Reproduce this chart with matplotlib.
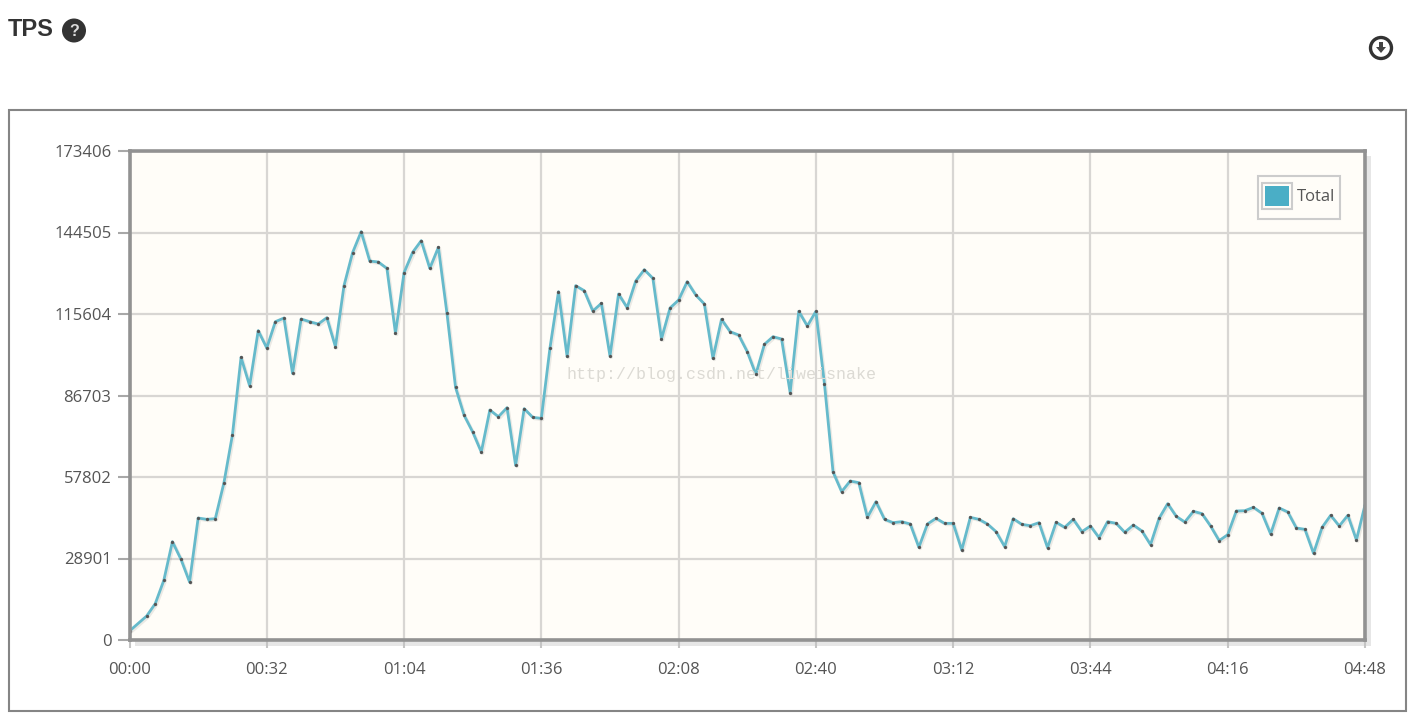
import matplotlib
matplotlib.use('Agg')
import matplotlib.pyplot as plt
from matplotlib.patches import Rectangle, Circle, Polygon
from matplotlib.transforms import Affine2D, offset_copy

W, H = 1422, 725

# minutes since start, the 00:02 sample has no marker in the picture
minutes = [0] + list(range(4, 290, 2))
tps = [
    3190, 8510, 12880, 21160, 34870, 28600, 20570, 43260, 42790, 43020, 55670, 72800,
    100230, 90190, 109690, 103540, 112880, 114180, 94560, 113830, 112880, 112050,
    114300, 104020, 125650, 137350, 144800, 134390, 134040, 131790, 108740, 130260,
    137470, 141600, 131790, 139240, 115840, 89600, 79670, 73760, 66660, 81560, 79190,
    82390, 61940, 82030, 78960, 78600, 103420, 123520, 100590, 125650, 123870, 116660,
    119380, 100710, 122690, 117850, 127300, 131320, 128250, 106730, 117730, 120560,
    127070, 122340, 119150, 99880, 113710, 109340, 108150, 102240, 94210, 104840,
    107560, 106730, 87700, 116550, 111340, 116550, 90780, 59570, 52600, 56380, 55790,
    43500, 49050, 42790, 41610, 41960, 41130, 32860, 41130, 43140, 41370, 41370, 31910,
    43500, 42790, 41130, 38410, 33100, 43020, 41010, 40540, 41610, 32740, 41720, 39950,
    42790, 38410, 40420, 36290, 41960, 41370, 38180, 40780, 38650, 33810, 43140, 48340,
    43850, 41840, 45630, 44800, 40420, 35220, 37350, 45740, 45860, 47040, 44920, 37590,
    46810, 45390, 39720, 39240, 30730, 39950, 44210, 40420, 44210, 35460, 47870,
]
x_ticks = [0, 32, 64, 96, 128, 160, 192, 224, 256, 288]
x_labels = ['00:00', '00:32', '01:04', '01:36', '02:08', '02:40', '03:12', '03:44', '04:16', '04:48']
y_ticks = [0, 28901, 57802, 86703, 115604, 144505, 173406]

text_col = '#555555'
grid_col = '#d8d6d3'
border_col = '#929292'
line_col = '#66bacb'
swatch_col = '#4aaec6'
dark = '#333333'

fig = plt.figure(figsize=(W / 100, H / 100), dpi=100, facecolor='white')
# pixel coordinates for the page furniture, origin top left
to_px = Affine2D().scale(1, -1).translate(0, H)

ax = fig.add_axes([129.5 / W, 1 - 640 / H, (1365 - 129.5) / W, (640 - 151) / H], facecolor='#fffdf8')
ax.set_xlim(0, 288)
ax.set_ylim(0, 173406)
ax.set_xticks(x_ticks, x_labels)
ax.set_yticks(y_ticks, [str(v) for v in y_ticks])
ax.grid(True, color=grid_col, linewidth=1.6)
ax.set_axisbelow(True)
ax.tick_params(axis='y', length=9, width=1.5, color='#a8a8a8', pad=4, labelsize=12, labelcolor=text_col)
ax.tick_params(axis='x', length=6, width=1.5, color='#c4c4c4', pad=10, labelsize=12, labelcolor=text_col)
for label in ax.get_xticklabels() + ax.get_yticklabels():
    label.set_family('Open Sans')
for spine in ax.spines.values():
    spine.set_color(border_col)
    spine.set_linewidth(2.6)

# soft shadow under the line, then the line with small dark markers
shadow = offset_copy(ax.transData, fig=fig, x=1.5, y=-1.5, units='dots')
ax.plot(minutes, tps, color='#000000', alpha=0.08, linewidth=2, transform=shadow)
ax.plot(minutes, tps, color=line_col, linewidth=2, marker='o', markersize=2.2,
        markerfacecolor='#555555', markeredgecolor='#555555', markeredgewidth=0.2)

# outer frame and the shadow of the plot box
fig.add_artist(Rectangle((8.5, 110), 1397, 601, fill=False, edgecolor='#858585', linewidth=1.5,
                         transform=to_px, zorder=-2))
fig.add_artist(Rectangle((1366, 156), 5, 488, facecolor='#e6e6e6', edgecolor='none',
                         transform=to_px, zorder=-1))
fig.add_artist(Rectangle((135, 641), 1236, 5, facecolor='#e6e6e6', edgecolor='none',
                         transform=to_px, zorder=-1))

# legend
fig.add_artist(Rectangle((1258, 176), 82, 43, facecolor='#fffdf8', edgecolor='#cccccc', linewidth=1.5,
                         transform=to_px, zorder=5))
fig.add_artist(Rectangle((1262, 183), 30, 26, facecolor='#fffdf8', edgecolor='#cccccc', linewidth=1.5,
                         transform=to_px, zorder=6))
fig.add_artist(Rectangle((1265, 186), 24, 20, facecolor=swatch_col, edgecolor='none',
                         transform=to_px, zorder=7))
fig.text(1297, 197, 'Total', transform=to_px, ha='left', va='center', fontsize=12,
         family='Open Sans', color=text_col, zorder=7)

# header
fig.text(8, 29, 'TPS', transform=to_px, ha='left', va='center', fontsize=17, fontweight='bold',
         family='Liberation Sans', color=dark)
fig.add_artist(Circle((74, 30.5), 12, facecolor=dark, edgecolor='none', transform=to_px))
fig.text(74, 31, '?', transform=to_px, ha='center', va='center', fontsize=11.5, fontweight='bold',
         family='Liberation Sans', color='#dddddd', zorder=4)
fig.add_artist(Circle((1381, 48), 10.5, facecolor='white', edgecolor=dark, linewidth=2.4, transform=to_px))
fig.add_artist(Polygon([(1379, 42), (1383, 42), (1383, 47), (1386, 47), (1381, 53), (1376, 47), (1379, 47)],
                       facecolor='#444444', edgecolor='none', transform=to_px, zorder=4))

# watermark of the blog the screenshot came from
fig.text(566, 374, 'http://blog.csdn.net/liweisnake', transform=to_px, ha='left', va='center',
         fontsize=12, family='Liberation Mono', color='#dcdad4', zorder=8)

fig.savefig('out.png', dpi=100, facecolor='white')
